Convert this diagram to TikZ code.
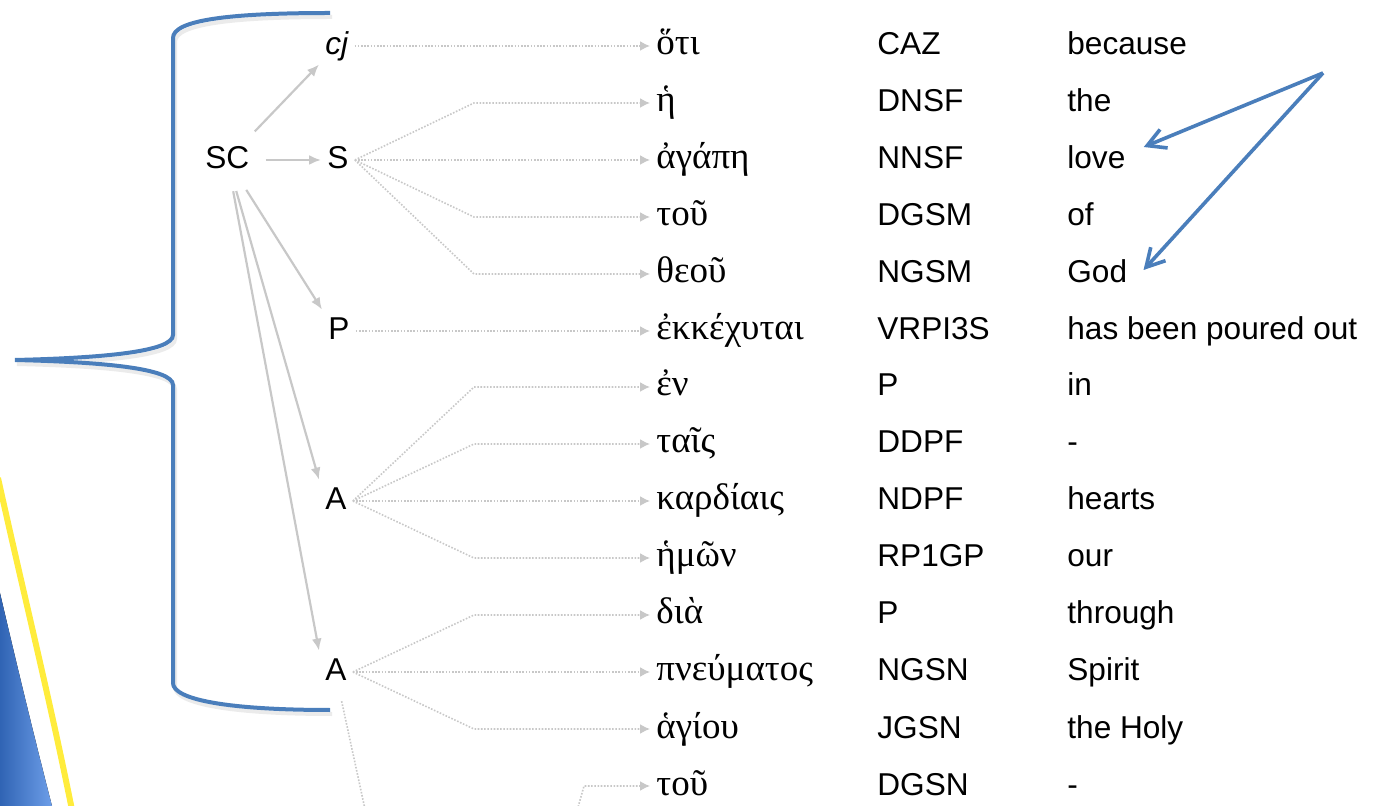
\documentclass[tikz,border=0pt]{standalone}
\usepackage{fontspec}
\setmainfont{Liberation Sans}
\newfontfamily\greekfont{Liberation Serif}
\usepackage{tikz}
\usetikzlibrary{arrows.meta}

\definecolor{bracketblue}{RGB}{74,126,187}
\definecolor{linkgray}{RGB}{200,200,200}
\definecolor{swooshblue}{RGB}{60,125,225}
\definecolor{swooshyellow}{RGB}{255,236,60}

\tikzset{
  lab/.style={anchor=base west,inner sep=3pt,text height=12pt,text depth=3pt,font=\fontsize{15.8}{18}\selectfont},
  gk/.style={anchor=base west,inner sep=3pt,text height=12pt,text depth=3pt,font=\greekfont\fontsize{18.5}{20}\selectfont},
  treelink/.style={linkgray,line width=1.1pt,shorten <=5pt,-{Latex[length=6pt,width=5pt]}},
  dotlink/.style={linkgray,line width=0.8pt,dash pattern=on 0.8pt off 0.8pt,-{Latex[length=5pt,width=5pt]}},
  bracket/.style={bracketblue,line width=2pt},
  pointer/.style={bracketblue,line width=1.8pt,-{Straight Barb[length=9pt,width=10pt,line width=1.8pt]}}
}

\begin{document}
\begin{tikzpicture}[x=0.5pt,y=-0.5pt]
\useasboundingbox (0,0) rectangle (1376,806);
\clip (0,0) rectangle (1376,806);

\fill[left color=swooshblue!80!black,right color=swooshblue!75!white] (0,593) .. controls (18,670) and (35,740) .. (52,806) -- (0,806) -- cycle;
\draw[swooshyellow,line width=3pt] (-2,478) .. controls (25,600) and (50,700) .. (72,810);

\node (SC) at (199,169) [lab] {SC};
\node (cj) at (319,55) [lab] {\itshape cj};
\node (S) at (321,169) [lab] {S};
\node (P) at (322,340) [lab] {P};
\node (A1) at (319,510) [lab] {A};
\node (A2) at (319,681) [lab] {A};
\coordinate (low1) at (376,860);
\coordinate (low2) at (566,850);

\node (g1) at (650,55) [gk] {ὅτι};
\node (g2) at (650,112) [gk] {ἡ};
\node (g3) at (650,169) [gk] {ἀγάπη};
\node (g4) at (650,226) [gk] {τοῦ};
\node (g5) at (650,283) [gk] {θεοῦ};
\node (g6) at (650,340) [gk] {ἐκκέχυται};
\node (g7) at (650,396) [gk] {ἐν};
\node (g8) at (650,453) [gk] {ταῖς};
\node (g9) at (650,510) [gk] {καρδίαις};
\node (g10) at (650,567) [gk] {ἡμῶν};
\node (g11) at (650,624) [gk] {διὰ};
\node (g12) at (650,681) [gk] {πνεύματος};
\node (g13) at (650,738) [gk] {ἁγίου};
\node (g14) at (650,795) [gk] {τοῦ};

\node (t1) at (871,55) [lab] {CAZ};
\node (t2) at (871,112) [lab] {DNSF};
\node (t3) at (871,169) [lab] {NNSF};
\node (t4) at (871,226) [lab] {DGSM};
\node (t5) at (871,283) [lab] {NGSM};
\node (t6) at (871,340) [lab] {VRPI3S};
\node (t7) at (871,396) [lab] {P};
\node (t8) at (871,453) [lab] {DDPF};
\node (t9) at (871,510) [lab] {NDPF};
\node (t10) at (871,567) [lab] {RP1GP};
\node (t11) at (871,624) [lab] {P};
\node (t12) at (871,681) [lab] {NGSN};
\node (t13) at (871,738) [lab] {JGSN};
\node (t14) at (871,795) [lab] {DGSN};

\node (e1) at (1061,55) [lab] {because};
\node (e2) at (1061,112) [lab] {the};
\node (e3) at (1061,169) [lab] {love};
\node (e4) at (1061,226) [lab] {of};
\node (e5) at (1061,283) [lab] {God};
\node (e6) at (1061,340) [lab] {has been poured out};
\node (e7) at (1061,396) [lab] {in};
\node (e8) at (1061,453) [lab] {-};
\node (e9) at (1061,510) [lab] {hearts};
\node (e10) at (1061,567) [lab] {our};
\node (e11) at (1061,624) [lab] {through};
\node (e12) at (1061,681) [lab] {Spirit};
\node (e13) at (1061,738) [lab] {the Holy};
\node (e14) at (1061,795) [lab] {-};

\draw[treelink] (SC) -- (cj);
\draw[treelink] (SC.east) -- (S.west);
\draw[treelink] (SC) -- (P.north west);
\draw[treelink] (SC) -- (A1.north west);
\draw[treelink] (SC) -- (A2.north west);

\draw[dotlink] (cj.east) -- (g1.west);
\draw[dotlink] (S.east) -- ([xshift=-88pt]g2.west) -- (g2.west);
\draw[dotlink] (S.east) -- (g3.west);
\draw[dotlink] (S.east) -- ([xshift=-88pt]g4.west) -- (g4.west);
\draw[dotlink] (S.east) -- ([xshift=-88pt]g5.west) -- (g5.west);
\draw[dotlink] (P.east) -- (g6.west);
\draw[dotlink] (A1.east) -- ([xshift=-88pt]g7.west) -- (g7.west);
\draw[dotlink] (A1.east) -- ([xshift=-88pt]g8.west) -- (g8.west);
\draw[dotlink] (A1.east) -- (g9.west);
\draw[dotlink] (A1.east) -- ([xshift=-88pt]g10.west) -- (g10.west);
\draw[dotlink] (A2.east) -- ([xshift=-88pt]g11.west) -- (g11.west);
\draw[dotlink] (A2.east) -- (g12.west);
\draw[dotlink] (A2.east) -- ([xshift=-88pt]g13.west) -- (g13.west);
\draw[dotlink] (low2) -- ([xshift=-33pt]g14.west) -- (g14.west);
\draw[linkgray,line width=0.8pt,dash pattern=on 0.8pt off 0.8pt,shorten <=4pt] ([xshift=2pt]A2.south) -- (low1);

\draw[bracket,black!8,shift={(2,4)}] (330,13) .. controls (230,13) and (173,20) .. (173,38) -- (173,335) .. controls (173,352) and (100,358) .. (15,360) .. controls (100,362) and (173,368) .. (173,385) -- (173,683) .. controls (173,700) and (230,710) .. (330,710);
\draw[bracket] (330,13) .. controls (230,13) and (173,20) .. (173,38) -- (173,335) .. controls (173,352) and (100,358) .. (15,360) .. controls (100,362) and (173,368) .. (173,385) -- (173,683) .. controls (173,700) and (230,710) .. (330,710);

\coordinate (pin) at (1323,73);
\draw[pointer] (pin) -- ([shift={(6pt,6.5pt)}]e3.east);
\draw[pointer] (pin) -- ([shift={(5pt,2pt)}]e5.east);
\end{tikzpicture}
\end{document}
